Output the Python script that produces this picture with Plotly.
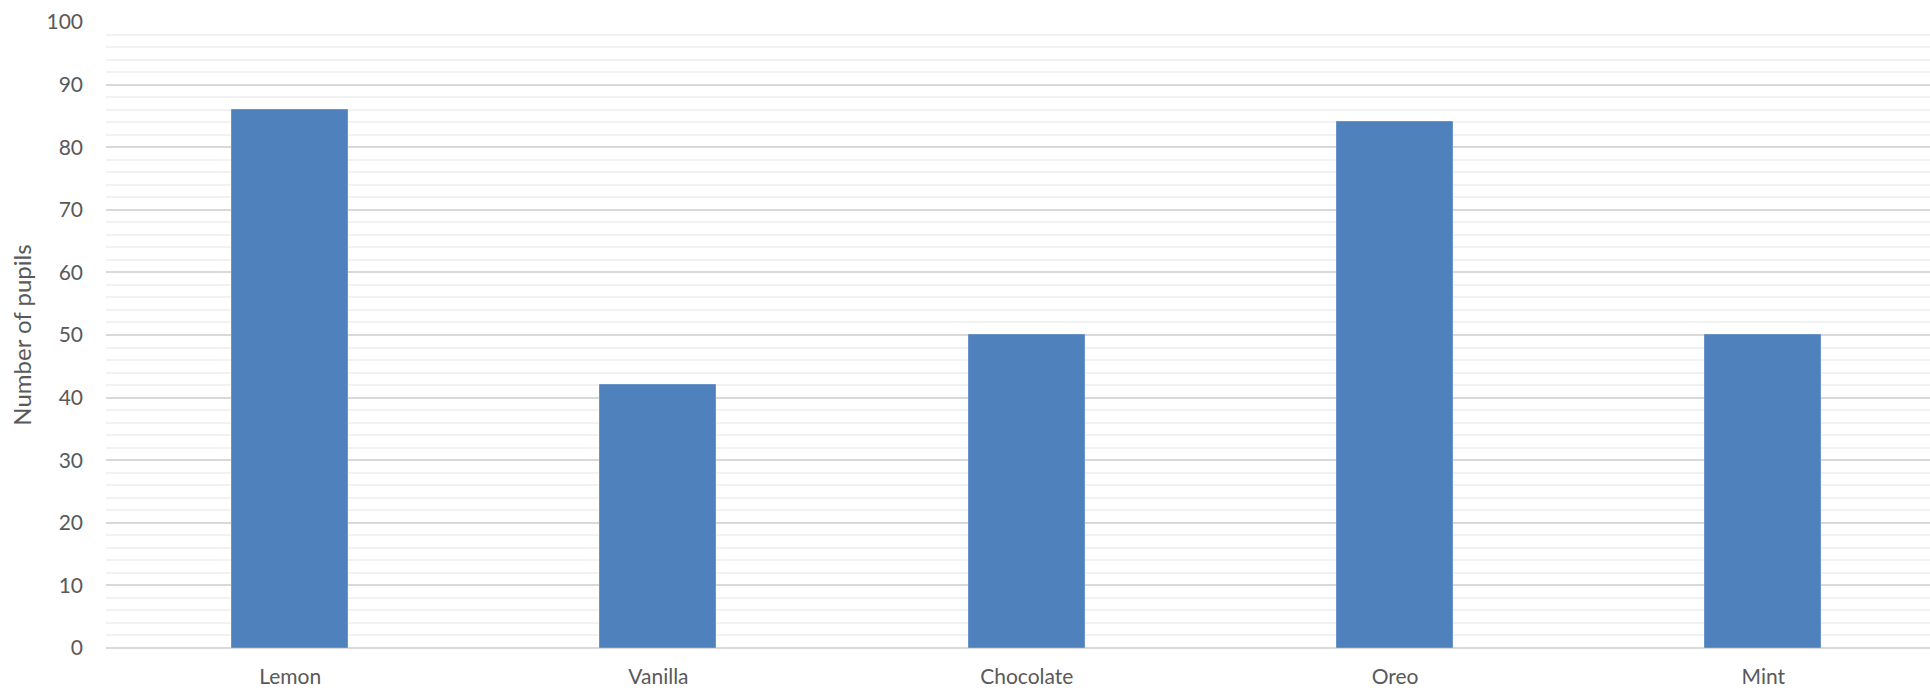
import plotly.graph_objects as go

flavours = ["Lemon", "Vanilla", "Chocolate", "Oreo", "Mint"]
pupils = [86, 42, 50, 84, 50]
y_ticks = [0, 10, 20, 30, 40, 50, 60, 70, 80, 90, 100]
y_title = "Number of pupils"

FONT = "Lato, 'Open Sans', sans-serif"
TEXT = "#595959"

fig = go.Figure(
    go.Bar(
        x=flavours,
        y=pupils,
        marker=dict(color="#4f81bd", line=dict(color="#6a93c9", width=1)),
        width=0.315,
        hoverinfo="x+y",
    )
)

fig.update_layout(
    width=1930,
    height=690,
    margin=dict(l=106, r=0, t=22, b=42),
    paper_bgcolor="white",
    plot_bgcolor="white",
    showlegend=False,
    font=dict(family=FONT, size=20, color=TEXT),
    bargap=0,
)

fig.update_xaxes(
    range=[-0.5, 4.4525],
    showgrid=False,
    zeroline=False,
    showline=False,
    ticks="",
    automargin=False,
    ticklabelstandoff=14,
    tickfont=dict(family=FONT, size=21, color=TEXT),
)

fig.update_yaxes(
    range=[0, 100],
    tickvals=y_ticks,
    ticktext=[str(v) for v in y_ticks],
    showgrid=True,
    gridcolor="#d9d9d9",
    gridwidth=2,
    zeroline=True,
    zerolinecolor="#d9d9d9",
    zerolinewidth=2,
    showline=False,
    ticks="",
    automargin=False,
    ticklabelstandoff=22,
    tickfont=dict(family=FONT, size=21, color=TEXT),
    minor=dict(dtick=2, showgrid=True, gridcolor="#f2f2f2", gridwidth=2),
    title=dict(text=y_title, font=dict(family=FONT, size=24, color=TEXT), standoff=8),
)

fig.write_html("out.html")
